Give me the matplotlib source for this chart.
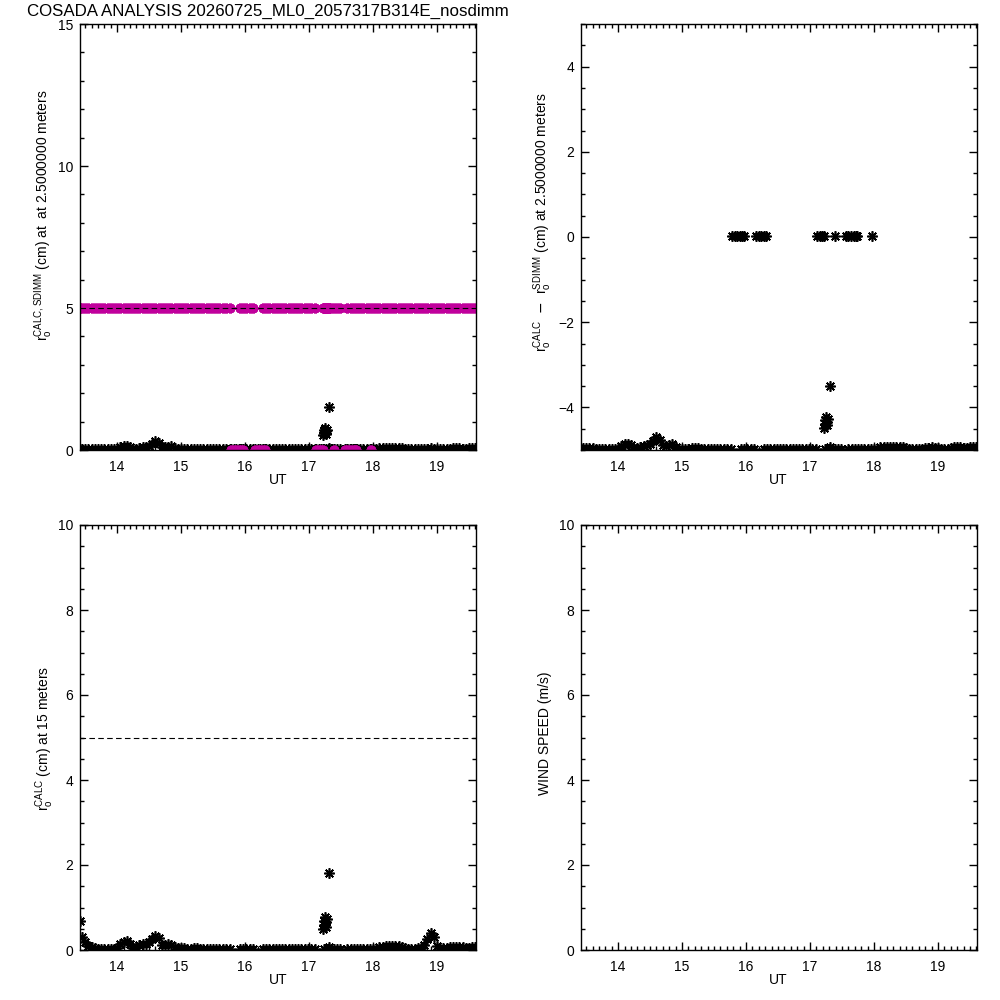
import numpy as np
import matplotlib
matplotlib.use('Agg')
import matplotlib.pyplot as plt
from matplotlib.ticker import MultipleLocator

MAGENTA = '#C0009C'
ASTER = (8, 2, 0)

plt.rcParams.update({
    'font.family': ['Liberation Sans', 'DejaVu Sans'],
    'font.size': 10,
    'axes.linewidth': 1.0,
    'xtick.direction': 'in', 'ytick.direction': 'in',
    'xtick.top': True, 'ytick.right': True,
    'xtick.major.size': 5.8, 'ytick.major.size': 5.8,
    'xtick.minor.size': 3.2, 'ytick.minor.size': 3.2,
    'xtick.major.width': 1.0, 'ytick.major.width': 1.0,
    'xtick.minor.width': 1.0, 'ytick.minor.width': 1.0,
    'xtick.major.pad': 7, 'ytick.major.pad': 5,
})

TITLE = 'COSADA ANALYSIS 20260725_ML0_2057317B314E_nosdimm'

# main time series (UT hours)
ut = [13.42, 13.45, 13.50, 13.55, 13.60, 13.65, 13.70, 13.75, 13.80, 13.85,
      13.90, 13.95, 14.00, 14.05, 14.10, 14.15, 14.20, 14.25, 14.30, 14.35,
      14.40, 14.45, 14.50, 14.55, 14.60, 14.65, 14.70, 14.75, 14.80, 14.85,
      14.90, 14.95, 15.00, 15.05, 15.10, 15.15, 15.20, 15.25, 15.30, 15.35,
      15.40, 15.45, 15.50, 15.55, 15.60, 15.65, 15.70, 15.76, 15.92, 15.97,
      16.02, 16.07, 16.12, 16.28, 16.33, 16.38, 16.43, 16.48, 16.53, 16.58,
      16.63, 16.68, 16.73, 16.78, 16.83, 16.88, 16.93, 16.98, 17.03, 17.09,
      17.24, 17.29, 17.34, 17.39, 17.44, 17.49, 17.60, 17.65, 17.70, 17.75,
      17.80, 17.85, 17.90, 17.95, 18.00, 18.05, 18.10, 18.15, 18.20, 18.25,
      18.30, 18.35, 18.40, 18.45, 18.50, 18.55, 18.60, 18.65, 18.70, 18.75,
      18.80, 18.85, 18.90, 18.95, 19.00, 19.05, 19.10, 19.15, 19.20, 19.25,
      19.30, 19.35, 19.40, 19.45, 19.50, 19.55, 19.60]

# r0 calc at 2.5 m (cm)
r0_calc_25 = [0.03, 0.05, 0.05, 0.05, 0.04, 0.02, 0.02, 0.02, 0.02, 0.02,
              0.02, 0.02, 0.03, 0.10, 0.13, 0.14, 0.11, 0.03, 0.05, 0.08,
              0.10, 0.11, 0.13, 0.20, 0.30, 0.24, 0.12, 0.10, 0.12, 0.13,
              0.08, 0.03, 0.02, 0.03, 0.02, 0.05, 0.05, 0.05, 0.02, 0.02,
              0.02, 0.02, 0.02, 0.02, 0.02, 0.02, 0.02, 0.02, 0.02, 0.02,
              0.02, 0.02, 0.02, 0.02, 0.02, 0.02, 0.02, 0.02, 0.03, 0.03,
              0.03, 0.03, 0.02, 0.02, 0.02, 0.02, 0.02, 0.02, 0.02, 0.02,
              0.02, 0.02, 0.02, 0.02, 0.02, 0.02, 0.02, 0.02, 0.02, 0.02,
              0.02, 0.02, 0.02, 0.02, 0.02, 0.03, 0.06, 0.07, 0.08, 0.08,
              0.07, 0.08, 0.08, 0.07, 0.05, 0.03, 0.02, 0.02, 0.02, 0.03,
              0.04, 0.05, 0.06, 0.05, 0.04, 0.03, 0.03, 0.03, 0.05, 0.06,
              0.06, 0.06, 0.05, 0.04, 0.06, 0.07, 0.07]

# r0 calc at 15 m (cm)
r0_calc_15 = [0.68, 0.30, 0.18, 0.10, 0.06, 0.04, 0.03, 0.03, 0.03, 0.03,
              0.03, 0.03, 0.04, 0.15, 0.20, 0.22, 0.15, 0.05, 0.06, 0.12,
              0.14, 0.15, 0.18, 0.25, 0.32, 0.28, 0.12, 0.12, 0.14, 0.12,
              0.08, 0.05, 0.04, 0.05, 0.03, 0.03, 0.05, 0.05, 0.03, 0.02,
              0.02, 0.02, 0.02, 0.02, 0.02, 0.02, 0.02, 0.02, 0.02, 0.02,
              0.02, 0.02, 0.02, 0.02, 0.02, 0.02, 0.02, 0.02, 0.02, 0.02,
              0.02, 0.02, 0.02, 0.02, 0.02, 0.02, 0.02, 0.02, 0.02, 0.02,
              0.02, 0.02, 0.02, 0.02, 0.02, 0.02, 0.02, 0.02, 0.02, 0.02,
              0.02, 0.02, 0.02, 0.02, 0.02, 0.03, 0.07, 0.08, 0.09, 0.09,
              0.10, 0.09, 0.10, 0.08, 0.04, 0.03, 0.03, 0.03, 0.04, 0.05,
              0.12, 0.25, 0.40, 0.30, 0.10, 0.04, 0.04, 0.04, 0.06, 0.07,
              0.07, 0.07, 0.06, 0.05, 0.05, 0.07, 0.07]

# short burst of larger values near 17.2-17.3 UT
burst_ut = [17.22, 17.23, 17.24, 17.25, 17.26, 17.27, 17.28, 17.31, 17.32]
burst_r0_25 = [0.52, 0.60, 0.70, 0.78, 0.66, 0.58, 0.72, 1.50, 0.06]
burst_r0_15 = [0.50, 0.58, 0.68, 0.78, 0.65, 0.55, 0.74, 1.82, 0.06]

# samples where the SDIMM r0 came back as zero
lo_ut = [15.78, 15.82, 15.86, 15.90, 15.94, 15.97, 16.16, 16.20, 16.24, 16.28,
         16.31, 17.11, 17.15, 17.19, 17.22, 17.39, 17.56, 17.60, 17.64, 17.68,
         17.72, 17.74, 17.97]
lo_r0_25 = [0.02, 0.02, 0.02, 0.02, 0.02, 0.02, 0.02, 0.02, 0.02, 0.02,
            0.02, 0.02, 0.02, 0.02, 0.02, 0.02, 0.02, 0.02, 0.02, 0.02,
            0.02, 0.02, 0.02]

SDIMM_R0 = 5.0      # SDIMM r0 for the regular samples
SDIMM_R0_LO = 0.0   # SDIMM r0 for the lo_ut samples
REF_R0 = 5.0        # dashed reference level

XLIM = (13.42, 19.61)
XTICKS = [14, 15, 16, 17, 18, 19]

ut = np.array(ut)
r0_calc_25 = np.array(r0_calc_25)
r0_calc_15 = np.array(r0_calc_15)
burst_ut = np.array(burst_ut)
burst_r0_25 = np.array(burst_r0_25)
burst_r0_15 = np.array(burst_r0_15)
lo_ut = np.array(lo_ut)
lo_r0_25 = np.array(lo_r0_25)

fig = plt.figure(figsize=(10, 10), dpi=100)


def panel(left, top, w, h):
    return fig.add_axes([left / 1000, 1 - (top + h) / 1000, w / 1000, h / 1000])


def style(ax, ylim, ymaj, ymin):
    ax.set_xlim(*XLIM)
    ax.set_ylim(*ylim)
    ax.set_xticks(XTICKS)
    ax.xaxis.set_minor_locator(MultipleLocator(0.1))
    ax.yaxis.set_major_locator(MultipleLocator(ymaj))
    ax.yaxis.set_minor_locator(MultipleLocator(ymin))


def stars(ax, x, y, color='k', ms=7.5, mew=1.2):
    ax.plot(x, y, ls='none', marker=ASTER, ms=ms, mew=mew, color=color)


# ── top-left: r0 calc and sdimm at 2.5 m ──
ax = panel(80, 24, 396, 426)
stars(ax, ut, r0_calc_25)
stars(ax, burst_ut, burst_r0_25)
stars(ax, lo_ut, lo_r0_25)
stars(ax, np.concatenate([ut, burst_ut]),
      np.full(len(ut) + len(burst_ut), SDIMM_R0), color=MAGENTA, ms=7.0, mew=2.2)
stars(ax, lo_ut, np.full(len(lo_ut), SDIMM_R0_LO), color=MAGENTA, ms=7.0, mew=2.2)
ax.axhline(REF_R0, color='k', lw=0.8, dashes=(5, 3))
style(ax, (0, 15), 5, 1)

# ── top-right: difference ──
ax = panel(581, 24, 396, 426)
stars(ax, ut, r0_calc_25 - SDIMM_R0)
stars(ax, burst_ut, burst_r0_25 - SDIMM_R0)
stars(ax, lo_ut, lo_r0_25 - SDIMM_R0_LO)
style(ax, (-5, 5), 2, 0.5)

# ── bottom-left: r0 calc at 15 m ──
ax = panel(80, 525, 396, 425)
stars(ax, ut, r0_calc_15)
stars(ax, burst_ut, burst_r0_15)
ax.axhline(REF_R0, color='k', lw=0.8, dashes=(5, 3))
style(ax, (0, 10), 2, 0.5)

# ── bottom-right: wind speed (no data) ──
ax = panel(581, 525, 396, 425)
style(ax, (0, 10), 2, 0.5)

# labels
fig.text(0.027, 1 - 0.011, TITLE, ha='left', va='center', fontsize=12.2)
for xc, yc in [(278, 480), (778, 480), (278, 980), (778, 980)]:
    fig.text(xc / 1000, 1 - yc / 1000, 'UT', ha='center', va='center')

ylabels = [
    (44, 215, r'r$_\mathregular{o}^\mathregular{CALC,SDIMM}$ (cm) at  at 2.5000000 meters'),
    (543, 222, r'r$_\mathregular{o}^\mathregular{CALC}$  $-$  r$_\mathregular{o}^\mathregular{SDIMM}$ (cm) at 2.5000000 meters'),
    (45, 738, r'r$_\mathregular{o}^\mathregular{CALC}$ (cm) at 15 meters'),
    (545, 733, 'WIND SPEED (m/s)'),
]
for xc, yc, txt in ylabels:
    fig.text(xc / 1000, 1 - yc / 1000, txt, rotation=90, ha='center', va='center')

fig.savefig('out.png', dpi=100, facecolor='white')
